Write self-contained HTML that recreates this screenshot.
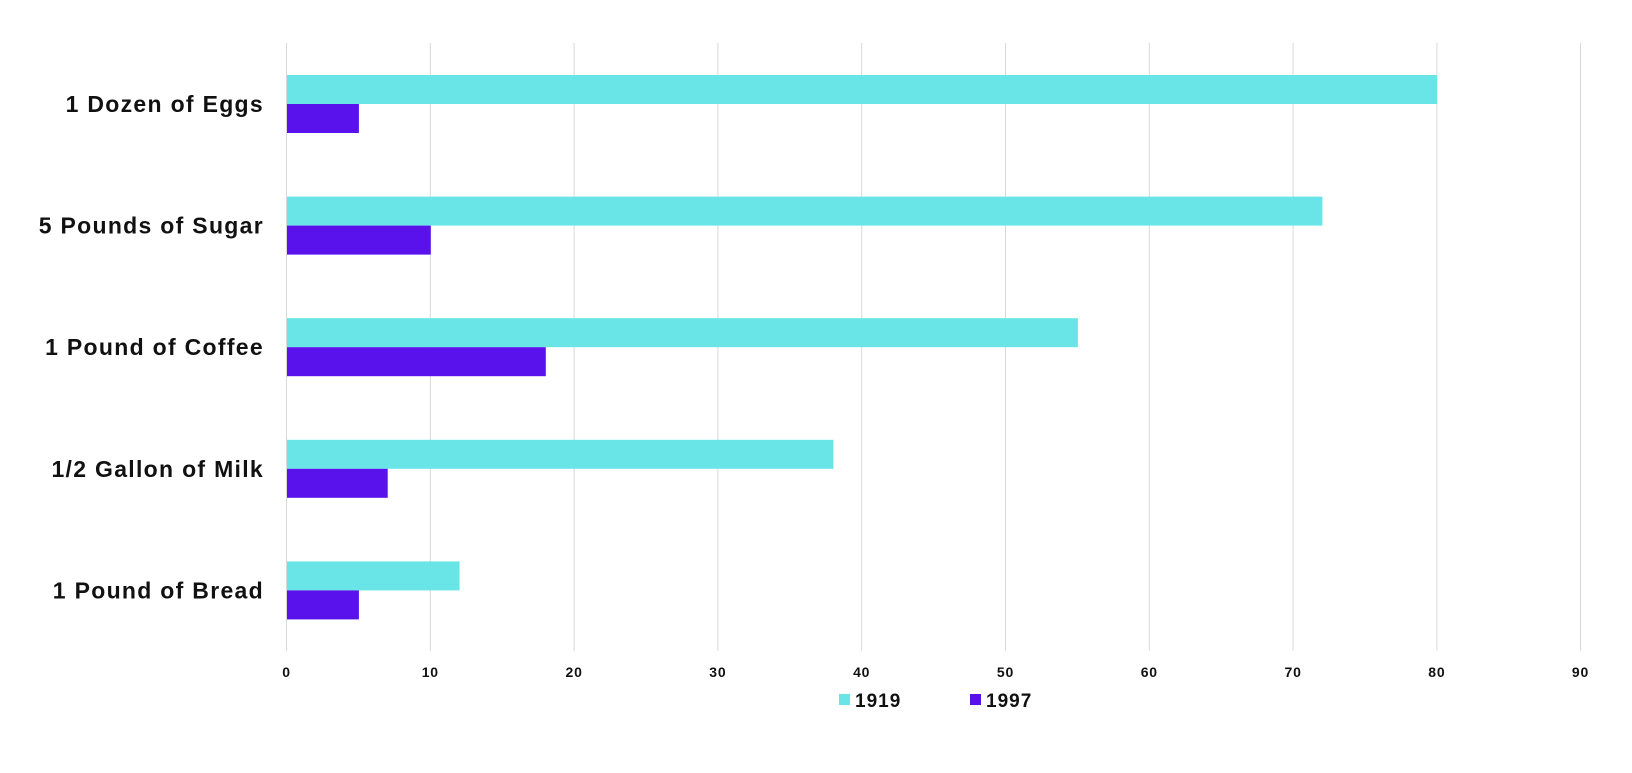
<!DOCTYPE html>
<html><head><style>
body{margin:0;background:#fff;}
svg text{font-family:"Liberation Sans",sans-serif;font-weight:bold;fill:#111;}
</style></head><body>
<svg width="1632" height="768" xmlns="http://www.w3.org/2000/svg">
<g stroke="#d9d9d9" stroke-width="1">
<line x1="286.5" y1="43" x2="286.5" y2="651"/>
<line x1="430.3" y1="43" x2="430.3" y2="651"/>
<line x1="574.1" y1="43" x2="574.1" y2="651"/>
<line x1="717.9" y1="43" x2="717.9" y2="651"/>
<line x1="861.7" y1="43" x2="861.7" y2="651"/>
<line x1="1005.5" y1="43" x2="1005.5" y2="651"/>
<line x1="1149.3" y1="43" x2="1149.3" y2="651"/>
<line x1="1293.1" y1="43" x2="1293.1" y2="651"/>
<line x1="1436.9" y1="43" x2="1436.9" y2="651"/>
<line x1="1580.5" y1="43" x2="1580.5" y2="651"/>
</g>
<g>
<rect x="287" y="75" width="1150" height="29" fill="#69e5e8"/>
<rect x="287" y="104" width="71.9" height="29" fill="#5a12ec"/>
<rect x="287" y="196.6" width="1035.4" height="29" fill="#69e5e8"/>
<rect x="287" y="225.6" width="143.8" height="29" fill="#5a12ec"/>
<rect x="287" y="318.2" width="790.9" height="29" fill="#69e5e8"/>
<rect x="287" y="347.2" width="258.8" height="29" fill="#5a12ec"/>
<rect x="287" y="439.8" width="546.4" height="29" fill="#69e5e8"/>
<rect x="287" y="468.8" width="100.7" height="29" fill="#5a12ec"/>
<rect x="287" y="561.4" width="172.6" height="29" fill="#69e5e8"/>
<rect x="287" y="590.4" width="71.9" height="29" fill="#5a12ec"/>
</g>
<g font-size="23" text-anchor="end" letter-spacing="1.3">
<text x="264" y="112">1 Dozen of Eggs</text>
<text x="264" y="233.6">5 Pounds of Sugar</text>
<text x="264" y="355.2">1 Pound of Coffee</text>
<text x="264" y="476.8">1/2 Gallon of Milk</text>
<text x="264" y="598.4">1 Pound of Bread</text>
</g>
<g font-size="14" text-anchor="middle" letter-spacing="0.8">
<text x="286.5" y="677">0</text>
<text x="430.3" y="677">10</text>
<text x="574.1" y="677">20</text>
<text x="717.9" y="677">30</text>
<text x="861.7" y="677">40</text>
<text x="1005.5" y="677">50</text>
<text x="1149.3" y="677">60</text>
<text x="1293.1" y="677">70</text>
<text x="1436.9" y="677">80</text>
<text x="1580.5" y="677">90</text>
</g>
<rect x="839" y="694" width="11" height="11" fill="#69e5e8"/>
<text x="855" y="707" font-size="19" letter-spacing="1">1919</text>
<rect x="970" y="694" width="11" height="11" fill="#5a12ec"/>
<text x="986" y="707" font-size="19" letter-spacing="1">1997</text>
</svg>
</body></html>
